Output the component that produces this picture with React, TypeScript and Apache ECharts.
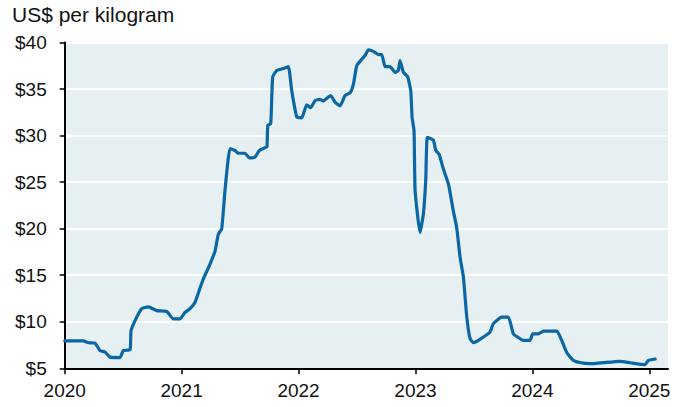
import React, { useEffect, useRef } from "react";
import * as echarts from "echarts";

// Decimal-year time stamps and price (US$ per kilogram)
const times = [
  2020.0, 2020.159, 2020.202, 2020.259, 2020.302, 2020.345, 2020.388, 2020.473, 2020.501, 2020.559,
  2020.567, 2020.601, 2020.659, 2020.715, 2020.787, 2020.873, 2020.929, 2020.986, 2021.029, 2021.072,
  2021.115, 2021.157, 2021.186, 2021.243, 2021.286, 2021.314, 2021.343, 2021.371, 2021.414, 2021.457,
  2021.485, 2021.542, 2021.579, 2021.628, 2021.665, 2021.713, 2021.73, 2021.737, 2021.762, 2021.779,
  2021.814, 2021.87, 2021.913, 2021.942, 2021.985, 2022.027, 2022.07, 2022.104, 2022.141, 2022.184,
  2022.212, 2022.241, 2022.275, 2022.312, 2022.355, 2022.398, 2022.441, 2022.469, 2022.498, 2022.541,
  2022.569, 2022.597, 2022.64, 2022.683, 2022.712, 2022.74, 2022.783, 2022.826, 2022.854, 2022.868,
  2022.897, 2022.934, 2022.96, 2022.971, 2022.988, 2022.997, 2023.039, 2023.068, 2023.088, 2023.102,
  2023.153, 2023.174, 2023.202, 2023.239, 2023.282, 2023.324, 2023.353, 2023.382, 2023.41, 2023.439,
  2023.467, 2023.495, 2023.538, 2023.638, 2023.666, 2023.738, 2023.795, 2023.837, 2023.88, 2023.923,
  2023.98, 2024.003, 2024.051, 2024.094, 2024.209, 2024.251, 2024.294, 2024.351, 2024.436, 2024.522,
  2024.607, 2024.75, 2024.836, 2024.964, 2024.992, 2025.05,
];
const prices = [
  7.95, 7.95, 7.75, 7.7, 6.9, 6.75, 6.2, 6.15, 6.9, 7.0,
  9.0, 10.1, 11.4, 11.6, 11.2, 11.1, 10.3, 10.3, 11.0, 11.4,
  12.1, 13.6, 14.6, 16.2, 17.6, 19.4, 20.0, 24.1, 28.6, 28.4,
  28.1, 28.1, 27.6, 27.7, 28.4, 28.7, 28.8, 31.1, 31.3, 36.3,
  37.0, 37.2, 37.4, 34.8, 32.0, 31.9, 33.3, 33.0, 33.75, 33.9,
  33.7, 34.0, 34.3, 33.6, 33.2, 34.3, 34.6, 35.5, 37.5, 38.2,
  38.6, 39.2, 39.05, 38.7, 38.7, 37.4, 37.4, 36.8, 37.0, 38.05,
  36.8, 36.3, 34.8, 32.0, 30.5, 24.1, 19.6, 21.6, 25.2, 29.8,
  29.5, 28.4, 28.0, 26.4, 24.8, 21.9, 20.1, 16.9, 14.8, 10.5,
  8.2, 7.75, 8.0, 8.9, 9.8, 10.5, 10.5, 8.7, 8.3, 8.0,
  8.0, 8.7, 8.7, 9.0, 9.0, 8.0, 6.7, 5.85, 5.55, 5.5,
  5.6, 5.75, 5.6, 5.4, 5.85, 6.0,
];
const yearTicks = [2020, 2021, 2022, 2023, 2024, 2025];
const priceTicks = [5, 10, 15, 20, 25, 30, 35, 40];
const unitLabel = "US$ per kilogram";

const FONT = "'Liberation Sans', Arial, Helvetica, sans-serif";

export default function App() {
  const ref = useRef<HTMLDivElement>(null);
  useEffect(() => {
    if (!ref.current) return;
    const chart = echarts.init(ref.current, null, { renderer: "svg" });
    chart.setOption({
      animation: false,
      backgroundColor: "#ffffff",
      textStyle: { fontFamily: FONT },
      graphic: [
        {
          type: "text",
          left: 12,
          top: 4,
          style: { text: unitLabel, font: `21px ${FONT}`, fill: "#111111" },
        },
      ],
      grid: {
        left: 64.7,
        right: 15,
        top: 42.5,
        bottom: 38.7,
        show: true,
        backgroundColor: "#e6eff2",
        borderWidth: 0,
      },
      xAxis: {
        type: "value",
        min: 2020,
        max: 2025.16,
        interval: 1,
        axisLine: { show: true, onZero: false, lineStyle: { color: "#000000", width: 2 } },
        axisTick: {
          show: true,
          length: 6,
          customValues: yearTicks,
          lineStyle: { color: "#000000", width: 1.5 },
        },
        axisLabel: {
          customValues: yearTicks,
          formatter: (v: number) => String(Math.round(v)),
          color: "#111111",
          fontSize: 19,
          fontFamily: FONT,
          margin: 13,
        },
        splitLine: { show: false },
      },
      yAxis: {
        type: "value",
        min: 5,
        max: 40,
        interval: 5,
        axisLine: { show: true, lineStyle: { color: "#000000", width: 2 } },
        axisTick: {
          show: true,
          length: 5,
          customValues: priceTicks,
          lineStyle: { color: "#000000", width: 1.5 },
        },
        axisLabel: {
          formatter: (v: number) => "$" + v,
          color: "#111111",
          fontSize: 19,
          fontFamily: FONT,
          margin: 18,
        },
        splitLine: { show: true, lineStyle: { color: "#ffffff", width: 2 } },
      },
      series: [
        {
          type: "line",
          data: times.map((t, i) => [t, prices[i]]),
          showSymbol: false,
          smooth: 0.15,
          lineStyle: { color: "#0b67a3", width: 3.2, join: "round", cap: "round" },
          z: 5,
        },
      ],
    });
    return () => chart.dispose();
  }, []);
  return (
    <div
      ref={ref}
      style={{ position: "fixed", left: 0, top: 0, width: 683, height: 407 }}
    />
  );
}
